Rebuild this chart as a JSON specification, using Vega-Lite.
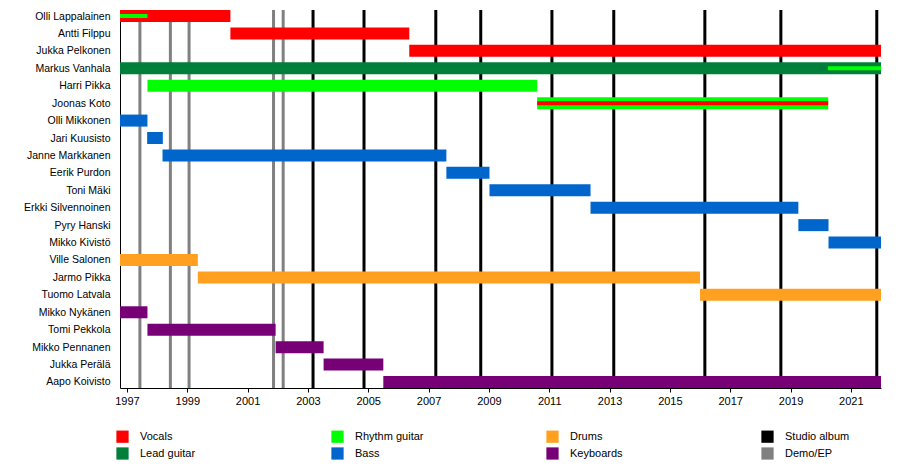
{
  "$schema": "https://vega.github.io/schema/vega-lite/v6.json",
  "width": 761,
  "height": 378,
  "autosize": "none",
  "padding": {"left": 120, "top": 10, "right": 19, "bottom": 80},
  "config": {
    "view": {"stroke": null},
    "font": "Liberation Sans",
    "axis": {"labelFont": "Liberation Sans", "labelColor": "#000000", "labelFontSize": 11, "domainColor": "#000000", "tickColor": "#000000"}
  },
  "datasets": {
    "members": [
      {"name": "Olli Lappalainen", "role": "Vocals", "start": 1996.77, "end": 2000.43},
      {"name": "Antti Filppu", "role": "Vocals", "start": 2000.43, "end": 2006.36},
      {"name": "Jukka Pelkonen", "role": "Vocals", "start": 2006.36, "end": 2022.0},
      {"name": "Markus Vanhala", "role": "Lead guitar", "start": 1996.77, "end": 2022.0},
      {"name": "Harri Pikka", "role": "Rhythm guitar", "start": 1997.68, "end": 2010.6},
      {"name": "Joonas Koto", "role": "Rhythm guitar", "start": 2010.6, "end": 2020.25},
      {"name": "Olli Mikkonen", "role": "Bass", "start": 1996.77, "end": 1997.68},
      {"name": "Jari Kuusisto", "role": "Bass", "start": 1997.67, "end": 1998.19},
      {"name": "Janne Markkanen", "role": "Bass", "start": 1998.18, "end": 2007.59},
      {"name": "Eerik Purdon", "role": "Bass", "start": 2007.59, "end": 2009.02},
      {"name": "Toni Mäki", "role": "Bass", "start": 2009.02, "end": 2012.37},
      {"name": "Erkki Silvennoinen", "role": "Bass", "start": 2012.37, "end": 2019.26},
      {"name": "Pyry Hanski", "role": "Bass", "start": 2019.26, "end": 2020.26},
      {"name": "Mikko Kivistö", "role": "Bass", "start": 2020.26, "end": 2022.0},
      {"name": "Ville Salonen", "role": "Drums", "start": 1996.77, "end": 1999.35},
      {"name": "Jarmo Pikka", "role": "Drums", "start": 1999.35, "end": 2016.0},
      {"name": "Tuomo Latvala", "role": "Drums", "start": 2016.0, "end": 2022.0},
      {"name": "Mikko Nykänen", "role": "Keyboards", "start": 1996.77, "end": 1997.68},
      {"name": "Tomi Pekkola", "role": "Keyboards", "start": 1997.68, "end": 2001.93},
      {"name": "Mikko Pennanen", "role": "Keyboards", "start": 2001.93, "end": 2003.52},
      {"name": "Jukka Perälä", "role": "Keyboards", "start": 2003.52, "end": 2005.5},
      {"name": "Aapo Koivisto", "role": "Keyboards", "start": 2005.5, "end": 2022.0}
    ],
    "secondary": [
      {"name": "Olli Lappalainen", "role": "Rhythm guitar", "start": 1996.77, "end": 1997.68},
      {"name": "Markus Vanhala", "role": "Rhythm guitar", "start": 2020.24, "end": 2022.0},
      {"name": "Joonas Koto", "role": "Vocals", "start": 2010.6, "end": 2020.25}
    ],
    "releases": [
      {"year": 1997.43, "role": "Demo/EP"},
      {"year": 1998.44, "role": "Demo/EP"},
      {"year": 1999.06, "role": "Demo/EP"},
      {"year": 2001.86, "role": "Demo/EP"},
      {"year": 2002.18, "role": "Demo/EP"},
      {"year": 2003.17, "role": "Studio album"},
      {"year": 2004.86, "role": "Studio album"},
      {"year": 2007.24, "role": "Studio album"},
      {"year": 2008.73, "role": "Studio album"},
      {"year": 2011.09, "role": "Studio album"},
      {"year": 2013.14, "role": "Studio album"},
      {"year": 2016.16, "role": "Studio album"},
      {"year": 2018.68, "role": "Studio album"},
      {"year": 2021.86, "role": "Studio album"}
    ]
  },
  "encoding": {
    "color": {
      "field": "role",
      "type": "nominal",
      "scale": {
        "domain": ["Vocals", "Lead guitar", "Rhythm guitar", "Bass", "Drums", "Keyboards", "Studio album", "Demo/EP"],
        "range": ["#ff0000", "#007f3a", "#00ff00", "#0066cc", "#ffa020", "#770077", "#000000", "#808080"]
      },
      "legend": {
        "title": null,
        "orient": "none",
        "legendX": -4,
        "legendY": 420,
        "columns": 4,
        "gridAlign": "all",
        "columnPadding": 122,
        "rowPadding": 4,
        "symbolType": "square",
        "symbolSize": 150,
        "symbolStrokeWidth": 0,
        "symbolOpacity": 1,
        "labelFont": "Liberation Sans",
        "labelFontSize": 11,
        "labelColor": "#000000",
        "labelOffset": 11
      }
    }
  },
  "layer": [
    {
      "data": {"name": "releases"},
      "mark": {"type": "rule", "strokeWidth": 3},
      "encoding": {
        "x": {"field": "year", "type": "quantitative"}
      }
    },
    {
      "data": {"name": "members"},
      "mark": {"type": "bar", "height": 12},
      "encoding": {
        "y": {
          "field": "name",
          "type": "nominal",
          "sort": null,
          "scale": {"type": "point", "padding": 0.345},
          "axis": {"title": null, "ticks": false, "labelPadding": 10, "labelFontSize": 10.5, "domainWidth": 1}
        },
        "x": {
          "field": "start",
          "type": "quantitative",
          "scale": {"domain": [1996.77, 2022.0], "nice": false, "zero": false},
          "axis": {
            "title": null,
            "values": [1997, 1998, 1999, 2000, 2001, 2002, 2003, 2004, 2005, 2006, 2007, 2008, 2009, 2010, 2011, 2012, 2013, 2014, 2015, 2016, 2017, 2018, 2019, 2020, 2021, 2022],
            "format": "d",
            "labelExpr": "datum.value % 2 == 1 ? datum.label : ''",
            "grid": false,
            "tickSize": 4,
            "labelPadding": 3,
            "labelFlush": false
          }
        },
        "x2": {"field": "end"}
      }
    },
    {
      "data": {"name": "secondary"},
      "mark": {"type": "bar", "height": 4},
      "encoding": {
        "y": {"field": "name", "type": "nominal", "sort": null},
        "x": {"field": "start", "type": "quantitative"},
        "x2": {"field": "end"}
      }
    }
  ]
}
